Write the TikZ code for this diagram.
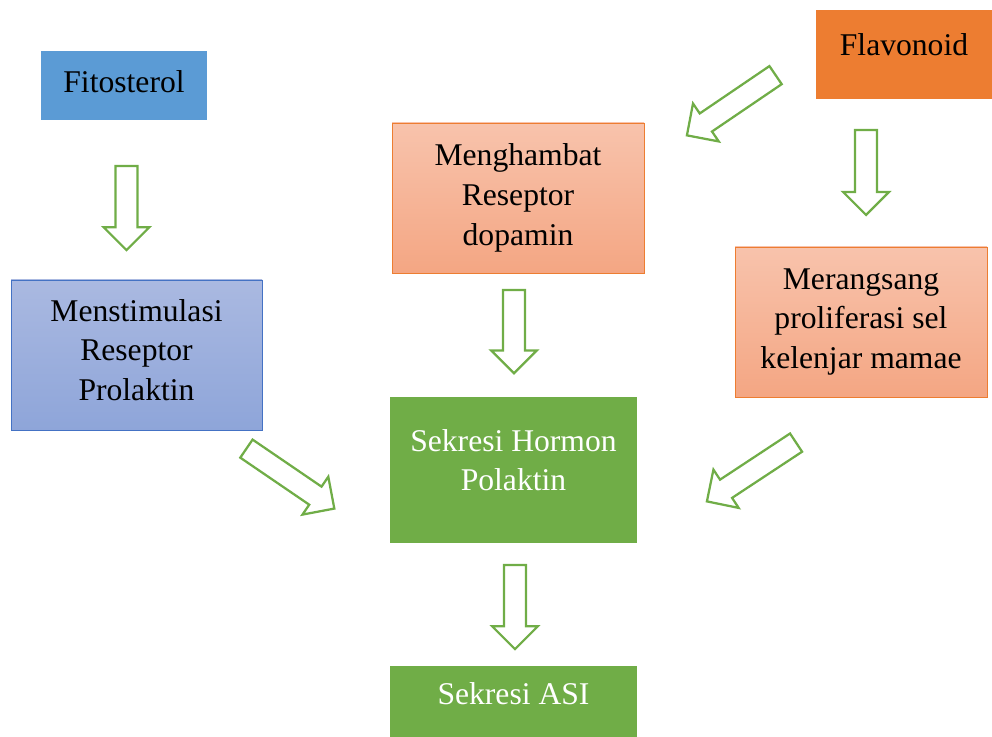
\documentclass[tikz,border=0pt]{standalone}
\usepackage{fontspec}
\setmainfont{Liberation Serif}
\usepackage{xcolor}
\usetikzlibrary{shapes,arrows,positioning}
\definecolor{fitoblue}{RGB}{91,155,213}
\definecolor{flavoorange}{RGB}{237,125,49}
\definecolor{peachtop}{RGB}{248,195,172}
\definecolor{peachbottom}{RGB}{244,166,131}
\definecolor{lilactop}{RGB}{170,185,225}
\definecolor{lilacbottom}{RGB}{142,165,217}
\definecolor{stimborder}{RGB}{68,114,196}
\definecolor{leafgreen}{RGB}{112,173,71}
\tikzstyle{blockarrow} = [single arrow, draw=leafgreen, line width=1.6pt, fill=white, inner xsep=0pt, inner ysep=0.245cm, single arrow head extend=0.3cm, anchor=tail]

\begin{document}
\begin{tikzpicture}[node distance=6.8cm, font=\fontsize{22.5}{28.3}\selectfont,
    box/.style={rectangle, text centered, align=center, minimum width=6.3cm, minimum height=3.75cm},
    peach/.style={box, draw=flavoorange, line width=0.6pt, top color=peachtop, bottom color=peachbottom},
    lilac/.style={box, draw=stimborder, line width=0.6pt, top color=lilactop, bottom color=lilacbottom},
    leaf/.style={box, fill=leafgreen, text=white, minimum width=6.175cm}]
        \useasboundingbox (0,0) rectangle (24.8,18.425);

        \node[box, fill=fitoblue, minimum width=4.15cm, minimum height=1.725cm, text depth=0.2cm] (Fitosterol) at (3.1,16.2875) {Fitosterol};
        \node[lilac, node distance=6.7375cm, below of=Fitosterol, xshift=0.3125cm, minimum width=6.275cm, text depth=0.25cm] (Menstimulasi) {Menstimulasi\\Reseptor\\Prolaktin};
        \node[box, fill=flavoorange, minimum width=4.4cm, minimum height=2.225cm, text depth=0.475cm] (Flavonoid) at (22.6,17.0625) {Flavonoid};
        \node[peach, node distance=6.6875cm, below of=Flavonoid, xshift=-1.075cm] (Merangsang) {Merangsang\\proliferasi sel\\kelenjar mamae};
        \node[peach] (Menghambat) at (12.95,13.475) {Menghambat\\Reseptor\\dopamin};
        \node[leaf, below of=Menghambat, xshift=-0.1125cm, minimum height=3.65cm, text depth=0.5cm] (SekresiHormon) {Sekresi Hormon\\Polaktin};
        \node[leaf, node distance=5.7875cm, below of=SekresiHormon, minimum height=1.775cm, text depth=0.42cm] (SekresiASI) {Sekresi ASI};

        % block arrows, placed by their tails
        \node[blockarrow, minimum height=2.1cm, rotate=-90] (FitoArrow) at (3.1625,14.3) {};
        \node[blockarrow, minimum height=2.08cm, rotate=-90] (HambatArrow) at (12.85,11.2) {};
        \node[blockarrow, minimum height=2.12cm, rotate=-90] (FlavoArrow) at (21.65,15.2) {};
        \node[blockarrow, minimum height=2.1cm, rotate=-90] (HormonArrow) at (12.875,4.325) {};
        \node[blockarrow, minimum height=2.68cm, rotate=214.2] (FlavoDiag) at (19.4125,16.5625) {};
        \node[blockarrow, minimum height=2.66cm, rotate=-34.3] (StimDiag) at (6.1375,7.225) {};
        \node[blockarrow, minimum height=2.67cm, rotate=213.4] (RangsangDiag) at (19.925,7.375) {};
    \end{tikzpicture}
\end{document}
